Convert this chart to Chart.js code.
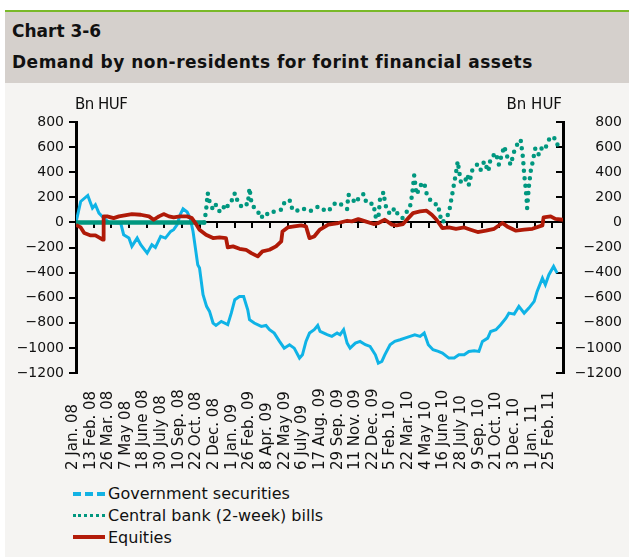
<!DOCTYPE html>
<html>
<head>
<meta charset="utf-8">
<script src="https://cdn.jsdelivr.net/npm/chart.js@4.4.1/dist/chart.umd.min.js"></script>
<style>
  html, body { margin: 0; padding: 0; background: #fff; }
  body { width: 629px; height: 557px; position: relative; overflow: hidden;
         font-family: "DejaVu Sans", sans-serif; color: #111; }
  #rule { position: absolute; left: 5px; top: 10px; width: 624px; height: 2px; background: #7ab929; }
  #head { position: absolute; left: 5px; top: 12px; width: 624px; height: 71px; background: #d5d0cc; }
  #head div { position: absolute; left: 7px; font-weight: bold; font-size: 17px; white-space: nowrap; }
  #panel { position: absolute; left: 5px; top: 83px; width: 624px; height: 474px; background: #f5f4f2; }
  #chart { position: absolute; left: 0; top: 0; }
  .unit { position: absolute; top: 12px; font-size: 15px; }
  #legend { position: absolute; left: 68px; top: 400px; font-size: 16px; }
  #legend .row { height: 21.7px; display: flex; align-items: center; }
  #legend .key { width: 32px; height: 0; margin-right: 3px; }
</style>
</head>
<body>
<div id="rule"></div>
<div id="head">
  <div style="top:9px">Chart 3-6</div>
  <div style="top:40px;letter-spacing:0.5px">Demand by non-residents for forint financial assets</div>
</div>
<div id="panel">
  <canvas id="chart" width="624" height="400"></canvas>
  <div class="unit" style="left:70px;letter-spacing:-0.5px">Bn HUF</div>
  <div class="unit" style="right:67px">Bn HUF</div>
  <div id="legend">
    <div class="row"><span class="key" style="border-top:4px dashed #12b2e4"></span>Government securities</div>
    <div class="row"><span class="key" style="border-top:3px dotted #00977f"></span>Central bank (2-week) bills</div>
    <div class="row"><span class="key" style="border-top:4px solid #b31c0a"></span>Equities</div>
  </div>
</div>
<script>
// x values are trading days from 2 Jan. 08; one tick label every 30 days
const tickLabels = ['2 Jan. 08', '13 Feb. 08', '26 Mar. 08', '7 May 08', '18 June 08', '30 July 08',
  '10 Sep. 08', '22 Oct. 08', '2 Dec. 08', '1 Jan. 09', '26 Feb. 09', '8 Apr. 09', '22 May 09',
  '6 July 09', '17 Aug. 09', '29 Sep. 09', '11 Nov. 09', '22 Dec. 09', '5 Feb. 10', '22 Mar. 10',
  '4 May 10', '16 June 10', '28 July 10', '9 Sep. 10', '21 Oct. 10', '3 Dec. 10', '1 Jan. 11', '25 Feb. 11'];

const govDays = [0, 8, 20, 28, 33, 39, 47, 56, 67, 76, 81, 90, 95, 104, 110, 121, 129, 135, 144, 152,
  161, 166, 172, 177, 182, 189, 194, 199, 203, 207, 210, 216, 222, 227, 233, 238, 247, 258, 264, 270,
  278, 285, 292, 295, 303, 315, 323, 329, 337, 346, 354, 363, 371, 380, 385, 391, 397, 405, 411, 415,
  427, 435, 444, 449, 455, 461, 466, 475, 483, 492, 500, 509, 514, 520, 525, 534, 542, 551, 559, 568,
  576, 585, 592, 599, 607, 616, 623, 634, 643, 651, 660, 668, 677, 685, 691, 700, 705, 714, 722, 731,
  736, 745, 753, 762, 770, 779, 784, 793, 798, 804, 812, 818];
const govValues = [0, 167, 215, 114, 141, 74, 35, 0, -5, -5, -98, -125, -191, -125, -178, -245, -178, -199, -112, -125,
  -72, -58, -18, 61, 109, 83, 35, -72, -205, -337, -364, -576, -669, -709, -802, -821, -789, -815, -723, -616,
  -590, -590, -696, -775, -802, -829, -821, -855, -882, -948, -1002, -975, -1002, -1081, -1055, -948, -882, -855, -821, -869,
  -895, -908, -882, -895, -855, -962, -1002, -962, -948, -975, -988, -1055, -1121, -1108, -1055, -975, -948, -935, -922, -908,
  -895, -908, -882, -975, -1015, -1028, -1041, -1081, -1081, -1055, -1055, -1028, -1022, -1028, -948, -922, -869, -855, -815, -763,
  -723, -731, -669, -723, -683, -629, -550, -444, -497, -417, -351, -404];

const billDays = [0, 218, 221, 224, 227, 233, 238, 244, 250, 255, 261, 267, 270, 275, 281, 286, 292, 295, 298, 303,
  309, 315, 320, 329, 337, 349, 354, 363, 368, 374, 383, 391, 397, 405, 412, 418, 429, 438, 446, 455,
  461, 463, 469, 475, 483, 489, 494, 506, 509, 514, 517, 523, 525, 528, 534, 542, 548, 555, 562, 568,
  571, 573, 575, 579, 588, 592, 596, 602, 609, 616, 618, 623, 629, 634, 637, 640, 643, 646, 649, 654,
  660, 666, 668, 674, 683, 688, 694, 701, 705, 714, 719, 728, 733, 739, 745, 750, 756, 760, 762, 764,
  766, 767, 770, 773, 776, 781, 787, 793, 798, 804, 812, 818, 824];
const billValues = [0, 0, 88, 233, 167, 101, 141, 88, 128, 101, 167, 181, 233, 167, 128, 154, 141, 273, 167, 114,
  88, 34, 74, 61, 88, 101, 154, 181, 101, 88, 114, 101, 88, 107, 128, 107, 88, 146, 161, 128,
  107, 221, 194, 154, 207, 227, 154, 146, 48, 29, 194, 240, 167, 107, 66, 114, 56, 34, 82, 128,
  207, 287, 374, 221, 314, 314, 233, 181, 146, 141, 66, 0, 34, 74, 154, 233, 314, 393, 486, 327,
  314, 380, 300, 420, 465, 420, 486, 406, 513, 552, 459, 606, 526, 459, 566, 619, 659, 513, 380, 300,
  194, 114, 287, 406, 473, 592, 539, 606, 592, 659, 685, 619, 646];

const eqDays = [0, 8, 14, 25, 33, 39, 46, 47, 53, 64, 73, 95, 110, 124, 132, 141, 149, 158, 166, 177,
  189, 197, 203, 210, 221, 233, 244, 255, 258, 267, 278, 289, 298, 309, 317, 329, 340, 349, 351, 360,
  371, 383, 391, 397, 405, 414, 429, 446, 461, 469, 480, 492, 506, 514, 525, 537, 545, 556, 565, 573,
  585, 596, 605, 613, 623, 634, 646, 660, 671, 683, 697, 711, 725, 733, 748, 762, 776, 793, 795, 807,
  815, 828];
const eqValues = [-20, -40, -85, -104, -104, -120, -138, 48, 48, 34, 48, 66, 61, 48, 21, 48, 66, 48, 40, 48,
  48, 34, -5, -58, -98, -125, -120, -125, -199, -191, -210, -218, -245, -271, -231, -218, -191, -151, -72, -40,
  -32, -24, -32, -125, -112, -60, -18, -5, 13, 8, 26, 8, -13, -5, 21, -18, -24, -13, 34, 74,
  88, 93, 61, 21, -45, -40, -51, -40, -58, -77, -66, -51, -5, -32, -66, -58, -51, -24, 40, 48,
  28, 21];

const yTicks = [-1200, -1000, -800, -600, -400, -200, 0, 200, 400, 600, 800];

const pairs = (xs, ys) => xs.map((x, i) => ({ x: x, y: ys[i] }));
const fmt = v => (v < 0 ? '\u2212' + Math.abs(v) : String(v));

// Excel-style date labels: rotated and aligned at their bottom ends
const bottomLabels = {
  id: 'bottomLabels',
  afterDraw(chart) {
    const sc = chart.scales.x;
    const ctx = chart.ctx;
    ctx.save();
    ctx.font = '15px "DejaVu Sans"';
    ctx.fillStyle = '#111';
    ctx.textAlign = 'left';
    ctx.textBaseline = 'middle';
    tickLabels.forEach((lab, i) => {
      ctx.save();
      ctx.translate(sc.getPixelForValue(i * 30) - 3, chart.chartArea.bottom + 97);
      ctx.rotate(-Math.PI / 2);
      ctx.fillText(lab, 0, 0);
      ctx.restore();
    });
    ctx.restore();
  }
};

const yAxis = (pos, width, tick) => ({
  position: pos,
  min: -1200,
  max: 800,
  afterBuildTicks: s => { s.ticks = yTicks.map(v => ({ value: v })); },
  afterFit: s => { s.width = width; },
  border: { display: true, color: '#000', width: 3 },
  grid: { drawOnChartArea: false, color: '#000', lineWidth: 2, tickLength: tick },
  ticks: {
    color: '#111',
    font: { family: 'DejaVu Sans', size: 14 },
    padding: 5,
    crossAlign: pos === 'right' ? 'far' : 'near',
    callback: v => fmt(v)
  }
});

new Chart(document.getElementById('chart'), {
  type: 'line',
  data: {
    datasets: [
      { label: 'Government securities', data: pairs(govDays, govValues), borderColor: '#0fb3e6',
        borderWidth: 3, order: 3 },
      { label: 'Central bank (2-week) bills', data: pairs(billDays, billValues), borderColor: '#00977f',
        borderWidth: 4.5, borderCapStyle: 'round', order: 2,
        segment: { borderDash: c => (c.p0.parsed.y === 0 && c.p1.parsed.y === 0 ? [] : [0, 7.5]) } },
      { label: 'Equities', data: pairs(eqDays, eqValues), borderColor: '#b01a08',
        borderWidth: 3.8, borderJoinStyle: 'round', order: 1 }
    ]
  },
  options: {
    responsive: false,
    animation: false,
    elements: { point: { radius: 0 }, line: { tension: 0 } },
    layout: { padding: { top: 39, bottom: 110, left: 0, right: 7 } },
    scales: {
      x: { type: 'linear', min: 0, max: 828, display: false },
      x0: {
        type: 'linear', axis: 'x', min: 0, max: 828,
        position: { y: 0 },
        border: { display: true, color: '#000', width: 2 },
        grid: { drawOnChartArea: false, color: '#000', lineWidth: 2, tickLength: 5 },
        ticks: { display: false, stepSize: 30, includeBounds: false }
      },
      y: yAxis('left', 71, 7),
      y2: yAxis('right', 59, -7)
    },
    plugins: { legend: { display: false }, tooltip: { enabled: false } }
  },
  plugins: [bottomLabels]
});
</script>
</body>
</html>
